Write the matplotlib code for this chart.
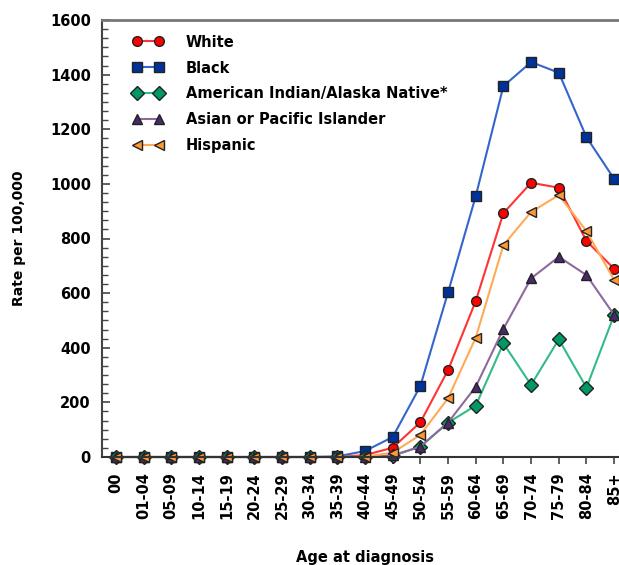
import numpy as np
import matplotlib
matplotlib.use("Agg")
from matplotlib import pyplot as plt
from matplotlib.ticker import MultipleLocator, AutoMinorLocator

ages = ["00", "01-04", "05-09", "10-14", "15-19", "20-24", "25-29", "30-34", "35-39",
        "40-44", "45-49", "50-54", "55-59", "60-64", "65-69", "70-74", "75-79", "80-84", "85+"]

white = [0, 0, 0, 0, 0, 0, 0, 0, 0, 7, 34, 127, 318, 571, 893, 1004, 986, 791, 689]
black = [0, 0, 0, 0, 0, 0, 0, 0, 2, 22, 73, 260, 603, 955, 1358, 1446, 1407, 1171, 1018]
aian = [0, 0, 0, 0, 0, 0, 0, 0, 0, 0, 4, 38, 126, 188, 416, 264, 431, 254, 520]
asian = [0, 0, 0, 0, 0, 0, 0, 0, 0, 0, 6, 38, 126, 257, 469, 654, 733, 666, 520]
hispanic = [0, 0, 0, 0, 0, 0, 0, 0, 0, 1, 16, 81, 215, 437, 776, 897, 959, 827, 648]

series = [
    ("White", white, "o", "#ff0000", "#ff3333"),
    ("Black", black, "s", "#003399", "#3366cc"),
    ("American Indian/Alaska Native*", aian, "D", "#009966", "#33bb88"),
    ("Asian or Pacific Islander", asian, "^", "#4b2a6b", "#8c6a9e"),
    ("Hispanic", hispanic, "<", "#ff9933", "#ffaa55"),
]

plt.rcParams["font.family"] = ["DejaVu Sans"]
plt.rcParams["font.weight"] = "bold"

fig = plt.figure(figsize=(6.19, 5.65), dpi=100)
ax = fig.add_axes([102 / 619, 108 / 565, 526 / 619, 437 / 565])

x = np.arange(len(ages))
for name, vals, mk, mcol, lcol in series:
    ax.plot(x, vals, color=lcol, linewidth=1.5, marker=mk, markersize=7,
            markerfacecolor=mcol, markeredgecolor="#222222", markeredgewidth=1.0,
            label=name)

ax.set_xlim(-0.5, len(ages) - 0.5)
ax.set_ylim(0, 1600)
ax.yaxis.set_major_locator(MultipleLocator(200))
ax.yaxis.set_minor_locator(AutoMinorLocator(6))
ax.set_xticks(x)
ax.set_xticklabels(ages, rotation=90, fontsize=10.5, fontweight="bold")
for lab in ax.get_yticklabels():
    lab.set_fontsize(10.5)
    lab.set_fontweight("bold")

ax.tick_params(axis="y", which="major", direction="in", length=6, width=1.2, pad=8,
               color="#444444")
ax.tick_params(axis="y", which="minor", direction="in", length=4, width=1.0, color="#444444")
ax.tick_params(axis="x", direction="out", length=5, width=1.2, pad=6, color="#444444")

ax.spines["right"].set_visible(False)
ax.spines["top"].set_color("#777777")
ax.spines["top"].set_linewidth(2)
ax.spines["left"].set_color("#444444")
ax.spines["left"].set_linewidth(1.5)
ax.spines["bottom"].set_color("#333333")
ax.spines["bottom"].set_linewidth(1.5)

for ln in ax.get_lines():
    ln.set_clip_on(False)

ax.set_ylabel("Rate per 100,000", fontsize=10, fontweight="bold", labelpad=17)
ax.set_xlabel("Age at diagnosis", fontsize=10.5, fontweight="bold")
ax.xaxis.set_label_coords((365 - 102) / 526, -(550 - 457) / 437)

leg = ax.legend(loc="upper left", bbox_to_anchor=(0.048, 0.98), frameon=False,
                fontsize=10.5, numpoints=2, handlelength=2.1, handletextpad=1.5,
                labelspacing=0.75, borderaxespad=0)
for t in leg.get_texts():
    t.set_fontweight("bold")

fig.savefig("out.png", dpi=100)
